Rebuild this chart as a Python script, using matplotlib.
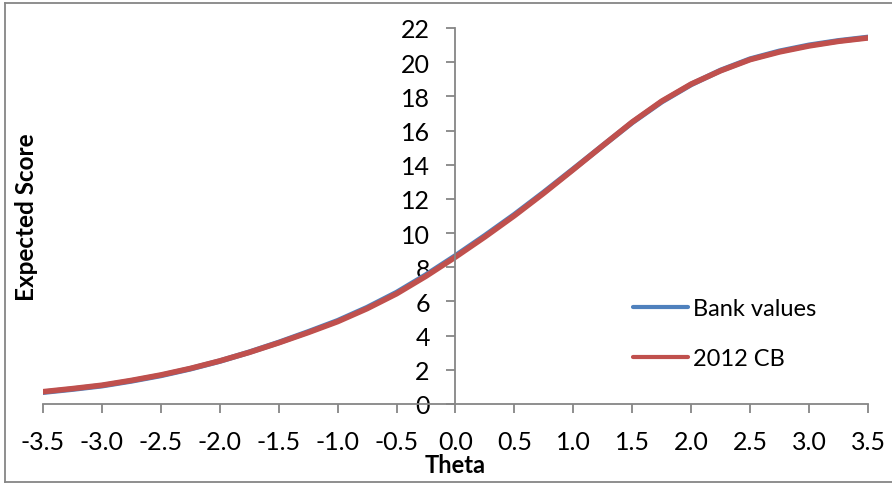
import matplotlib.pyplot as plt
from matplotlib.lines import Line2D

# values (theta step 0.25)
theta = [-3.5, -3.25, -3.0, -2.75, -2.5, -2.25, -2.0, -1.75, -1.5, -1.25, -1.0,
         -0.75, -0.5, -0.25, 0.0, 0.25, 0.5, 0.75, 1.0, 1.25, 1.5, 1.75, 2.0,
         2.25, 2.5, 2.75, 3.0, 3.25, 3.5]
bank_values = [0.69, 0.87, 1.07, 1.35, 1.67, 2.06, 2.51, 3.03, 3.6, 4.22, 4.87,
               5.64, 6.52, 7.55, 8.67, 9.85, 11.08, 12.39, 13.75, 15.12, 16.48, 17.69,
               18.7, 19.52, 20.18, 20.64, 20.99, 21.25, 21.45]
cb_2012 = [0.72, 0.9, 1.1, 1.38, 1.7, 2.08, 2.52, 3.02, 3.58, 4.18, 4.82,
           5.58, 6.45, 7.48, 8.6, 9.78, 11.02, 12.34, 13.72, 15.12, 16.5, 17.72,
           18.72, 19.5, 20.15, 20.6, 20.95, 21.22, 21.42]

x_ticks = [-3.5, -3.0, -2.5, -2.0, -1.5, -1.0, -0.5, 0.0, 0.5, 1.0, 1.5, 2.0, 2.5, 3.0, 3.5]
y_ticks = list(range(0, 23, 2))

plt.rcParams['font.family'] = ['Lato', 'DejaVu Sans']
GRAY = '#868686'

fig = plt.figure(figsize=(8.92, 4.85), dpi=100)
ax = fig.add_axes([43 / 892, 80 / 485, 825 / 892, 376 / 485])

ax.plot(theta, bank_values, color='#4F81BD', lw=4, solid_capstyle='round', label='Bank values')
ax.plot(theta, cb_2012, color='#C0504D', lw=4, solid_capstyle='round', label='2012 CB')

ax.set_xlim(-3.5, 3.5)
ax.set_ylim(0, 22)
ax.set_xticks(x_ticks)
ax.set_xticklabels([f'{v:.1f}' for v in x_ticks])
ax.set_yticks(y_ticks)

for s in ['top', 'right']:
    ax.spines[s].set_visible(False)
ax.spines['left'].set_position(('data', 0))
ax.spines['left'].set_color(GRAY)
ax.spines['bottom'].set_color(GRAY)
ax.spines['left'].set_linewidth(1.3)
ax.spines['bottom'].set_linewidth(1.3)
ax.tick_params(axis='both', colors=GRAY, labelcolor='black', labelsize=18,
               length=6.5, width=1.3, direction='out')
ax.tick_params(axis='y', pad=12)
ax.tick_params(axis='x', pad=12)

ax.set_xlabel('Theta', fontsize=17, fontweight='bold', labelpad=0)
fig.text(27 / 892, 1 - 217 / 485, 'Expected Score', fontsize=17.5, fontweight='bold',
         rotation=90, ha='center', va='center')

leg = ax.legend(loc='upper left', bbox_to_anchor=(0.715, 0.282), frameon=False,
                fontsize=17, handlelength=2.33, handletextpad=0.2,
                labelspacing=1.25, borderpad=0, borderaxespad=0)
for line in leg.get_lines():
    line.set_linewidth(3)
    line.set_solid_capstyle('round')

# chart area border (left, top, bottom)
for xs, ys in [([5, 5], [4, 483]), ([5, 892], [4, 4]), ([5, 892], [483, 483])]:
    fig.add_artist(Line2D([x / 892 for x in xs], [1 - y / 485 for y in ys],
                          transform=fig.transFigure, color=GRAY, lw=1.3))

fig.savefig('out.png', dpi=100)
